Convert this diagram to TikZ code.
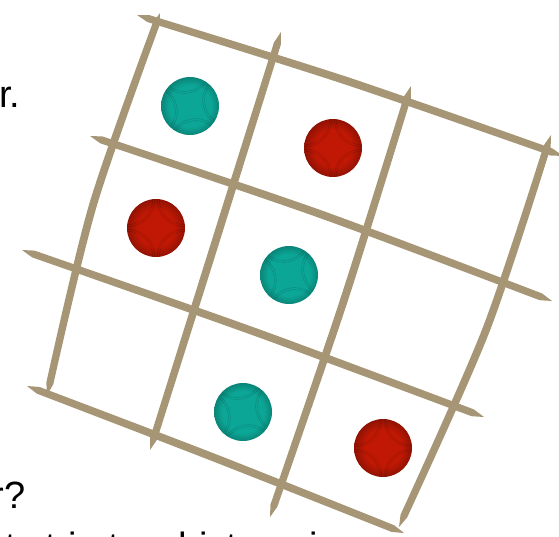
\documentclass[tikz,border=0pt]{standalone}
\usepackage{fontspec}
\setmainfont{Liberation Sans}
\usetikzlibrary{calc}

\definecolor{stickc}{RGB}{166,150,118}
\definecolor{tealb}{RGB}{12,166,150}
\definecolor{redb}{RGB}{192,24,4}

\pgfdeclareradialshading{tealshade}{\pgfpoint{0bp}{0bp}}{color(0bp)=(tealb); color(18bp)=(tealb); color(25bp)=(tealb!80!black); color(50bp)=(tealb!80!black)}
\pgfdeclareradialshading{redshade}{\pgfpoint{0bp}{0bp}}{color(0bp)=(redb); color(16bp)=(redb); color(25bp)=(redb!75!black); color(50bp)=(redb!75!black)}

% hand drawn stroke: start, middle, end
\newcommand\stick[3]{%
  \fill[stick] (#1)
    -- plot[smooth] coordinates {($(#1)!12pt!(#2)!3.6pt!90:(#2)$) ($(#2)!3.9pt!-90:(#1)$) ($(#3)!12pt!(#2)!3.6pt!-90:(#2)$)}
    -- (#3)
    -- plot[smooth] coordinates {($(#3)!12pt!(#2)!3.6pt!90:(#2)$) ($(#2)!3.9pt!90:(#1)$) ($(#1)!12pt!(#2)!3.6pt!-90:(#2)$)}
    -- cycle;}

\begin{document}
\begin{tikzpicture}[x=1pt, y=-1pt,
  stick/.style={fill=stickc},
  boule/.style={circle, minimum size=58pt, inner sep=0pt, shade},
  seam/.style={draw=black, opacity=0.16, line width=0.5pt},
  txt/.style={inner sep=0pt, font=\fontsize{38}{43}\selectfont}]
  \useasboundingbox (0,0) rectangle (559,536);

  % text cut by the left and bottom edges
  \node[txt, anchor=base east] (line1) at (20.5,107) {the other.};
  \node[txt, anchor=base east] (line2) at (25.5,508) {the winner?};
  \node[txt, anchor=base west] (line3) at (5,559) {ts trio to whist, so in a rare case};

  % rows of the grid
  \stick{137,15}{347,81}{563,156}
  \stick{90,136}{320,214}{552,301}
  \stick{22,250}{258,333}{484,417}
  \stick{27,386}{215,458}{404,533}
  % columns of the grid
  \stick{160,13}{93,205}{47,395}
  \stick{281,32}{216,240}{150,450}
  \stick{411,86}{344,300}{270,517}
  \stick{551,135}{486,330}{399,527}

  % the boules
  \foreach \n/\p/\s/\r in {ta/{190,106}/tealshade/8, rb/{333,148}/redshade/45,
      rc/{156,228}/redshade/45, td/{289,275}/tealshade/8,
      te/{243,412}/tealshade/8, rf/{383,448}/redshade/45} {
    \node[boule, shading=\s] (\n) at (\p) {};
    \begin{scope}
      \clip (\n.center) circle (28.5pt);
      \foreach \a in {0,90,180,270}
        \draw[seam] ($(\n.center)+(\a+\r:40pt)$) circle (25pt) circle (27pt);
    \end{scope}
  }
\end{tikzpicture}
\end{document}
